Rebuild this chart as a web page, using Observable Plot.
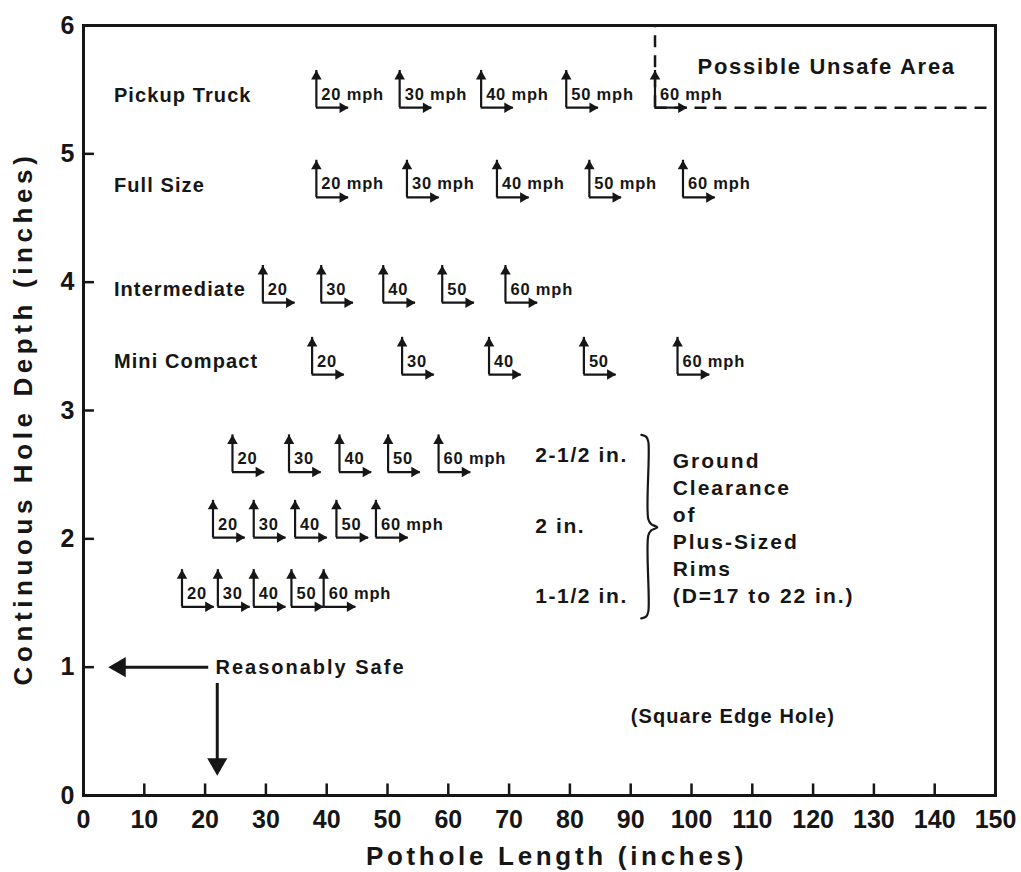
<!DOCTYPE html>
<html>
<head>
<meta charset="utf-8">
<script src="https://cdn.jsdelivr.net/npm/d3@7"></script>
<script src="https://cdn.jsdelivr.net/npm/@observablehq/plot@0.6"></script>
<style>
  html, body { margin: 0; padding: 0; background: #fff; }
  #chart svg { display: block; }
</style>
</head>
<body>
<div id="chart"></div>
<script>
// ---------------- data ----------------
const xTicks = [0, 10, 20, 30, 40, 50, 60, 70, 80, 90, 100, 110, 120, 130, 140, 150];
const yTicks = [0, 1, 2, 3, 4, 5, 6];
const speeds = [20, 30, 40, 50, 60];

// pothole length (in.) at each speed, per row
const pickupLength       = [38.3, 52.0, 65.4, 79.4, 94.0];
const fullSizeLength     = [38.3, 53.2, 68.0, 83.2, 98.6];
const intermediateLength = [29.5, 39.1, 49.3, 59.0, 69.4];
const miniCompactLength  = [37.6, 52.4, 66.7, 82.3, 97.7];
const clear25Length      = [24.5, 33.8, 42.1, 50.1, 58.4];
const clear20Length      = [21.3, 28.0, 34.8, 41.6, 48.1];
const clear15Length      = [16.2, 22.1, 28.0, 34.2, 39.5];

// hole depth (in.) of each row
const rowDepth = [5.36, 4.66, 3.84, 3.28, 2.52, 2.01, 1.47];
const rowLengths = [pickupLength, fullSizeLength, intermediateLength, miniCompactLength,
                    clear25Length, clear20Length, clear15Length];
const rowAllMph = [true, true, false, false, false, false, false];

const vehicleNames = ["Pickup Truck", "Full Size", "Intermediate", "Mini Compact"];
const vehicleLabelY = [5.45, 4.75, 3.94, 3.38];
const vehicleLabelX = 5;

const clearanceNames = ["2-1/2 in.", "2 in.", "1-1/2 in."];
const clearanceLabelY = [2.65, 2.10, 1.55];
const clearanceLabelX = 74.3;

const braceX = 92.9, braceTop = 2.81, braceMid = 2.09, braceBottom = 1.38;
const groundText = "Ground\nClearance\nof\nPlus-Sized\nRims\n(D=17 to 22 in.)";
const groundTextX = 96.9, groundTextY = 2.09;

const unsafeText = "Possible Unsafe Area";
const unsafeTextX = 101, unsafeTextY = 5.68;

const safeText = "Reasonably Safe";
const safeTextX = 21.7, safeTextY = 1.0;
const safeLeftFrom = 20.6, safeLeftTo = 4.1;     // x, at y = 1
const safeDownX = 22.0, safeDownFrom = 0.873, safeDownTo = 0.156;

const squareText = "(Square Edge Hole)";
const squareTextX = 90.0, squareTextY = 0.615;

// ---------------- build tables ----------------
const markers = [];
rowLengths.forEach((lens, r) => {
  lens.forEach((len, i) => {
    const s = speeds[i];
    markers.push({
      x: len, y: rowDepth[r],
      label: (rowAllMph[r] || s === 60) ? `${s} mph` : `${s}`
    });
  });
});

const UP = 0.29;     // vertical arrow length (depth units)
const RIGHT = 5.3;   // horizontal arrow length (length units)

const braceUnitX = 1 / 6.08, braceUnitY = 1 / 128.3;   // one pixel in data units
const braceOffsets = [[-7, 0], [-2, -2], [0, -7], [0, 0, "m+8"], [3, 0, "m+3"], [9, 0, "m"],
                      [3, 0, "m-3"], [0, 0, "m-8"], [0, 7, "b"], [-2, 2, "b"], [-7, 0, "b"]];
const bracePts = braceOffsets.map(([dx, dy, ref]) => {
  let y;
  if (!ref) y = braceTop + dy * braceUnitY;
  else if (ref === "b") y = braceBottom + dy * braceUnitY;
  else y = braceMid + (+ref.slice(1) || 0) * braceUnitY;
  return {x: braceX + dx * braceUnitX, y};
});

const ink = "#161616";
const font = "'Liberation Sans', Arial, Helvetica, sans-serif";

// ---------------- plot ----------------
const chart = Plot.plot({
  width: 1021,
  height: 872,
  marginLeft: 83,
  marginRight: 26,
  marginTop: 25,
  marginBottom: 77,
  x: {domain: [0, 150]},
  y: {domain: [0, 6]},
  style: {fontFamily: font, fontWeight: "bold", color: ink, background: "#fff"},
  marks: [
    Plot.axisX(xTicks, {tickSize: 0, tickPadding: 15, fontSize: 25, fontWeight: "bold", label: null, fill: ink,
      tickFormat: d3.format("d")}),
    Plot.axisY(yTicks, {tickSize: 0, tickPadding: 9, fontSize: 25, fontWeight: "bold", label: null, fill: ink,
      tickFormat: d3.format("d")}),
    // inward ticks
    Plot.ruleX(xTicks.filter(t => t > 0 && t < 150), {x: d => d, y1: 0, y2: 0.09, stroke: ink, strokeWidth: 2.5}),
    Plot.ruleY(yTicks.filter(t => t > 0 && t < 6), {y: d => d, x1: 0, x2: 1.8, stroke: ink, strokeWidth: 2.5}),
    Plot.frame({stroke: ink, strokeWidth: 3}),

    // axis titles
    Plot.text(["Continuous Hole Depth (inches)"], {frameAnchor: "left", textAnchor: "middle", lineAnchor: "middle",
      rotate: -90, dx: -60, dy: 8,
      fontSize: 26, fontWeight: "bold", fill: ink, ariaDescription: "ls:4.6"}),
    Plot.text(["Pothole Length (inches)"], {frameAnchor: "bottom", textAnchor: "middle", lineAnchor: "middle",
      dy: 61, dx: 17,
      fontSize: 26, fontWeight: "bold", fill: ink, ariaDescription: "ls:3.7"}),

    // unsafe area dashed boundary
    Plot.ruleX([pickupLength[4]], {x: d => d, y1: rowDepth[0], y2: 6, stroke: ink, strokeWidth: 2.5, strokeDasharray: "12,8"}),
    Plot.ruleY([rowDepth[0]], {y: d => d, x1: pickupLength[4], x2: 150, stroke: ink, strokeWidth: 2.5, strokeDasharray: "12,8"}),

    // speed markers: shafts
    Plot.ruleX(markers, {x: "x", y1: "y", y2: d => d.y + UP, stroke: ink, strokeWidth: 2.2}),
    Plot.ruleY(markers, {y: "y", x1: "x", x2: d => d.x + RIGHT, stroke: ink, strokeWidth: 2.2}),
    // speed markers: heads
    Plot.dot(markers, {x: "x", y: d => d.y + UP, symbol: "triangle", r: 3.9, fill: ink, stroke: null, rotate: 0, dy: 6}),
    Plot.dot(markers, {x: d => d.x + RIGHT, y: "y", symbol: "triangle", r: 3.9, fill: ink, stroke: null, rotate: 90, dx: -6}),
    Plot.text(markers, {x: "x", y: "y", text: "label", textAnchor: "start", lineAnchor: "bottom",
      dx: 5, dy: -8, fontSize: 16.5, fontWeight: "bold", fill: ink, ariaDescription: "ls:0.8"}),

    // row labels
    Plot.text(vehicleNames, {x: vehicleLabelX, y: (d, i) => vehicleLabelY[i], text: d => d, textAnchor: "start",
      fontSize: 20, fontWeight: "bold", fill: ink, ariaDescription: "ls:1.1"}),
    Plot.text(clearanceNames, {x: clearanceLabelX, y: (d, i) => clearanceLabelY[i], text: d => d, textAnchor: "start",
      fontSize: 21, fontWeight: "bold", fill: ink, ariaDescription: "ls:1.6"}),

    // brace and its text
    Plot.line(bracePts, {x: "x", y: "y", curve: "catmull-rom", stroke: ink, strokeWidth: 2.2}),
    Plot.text([groundText], {x: groundTextX, y: groundTextY, textAnchor: "start", lineAnchor: "middle", lineHeight: 1.286,
      fontSize: 21, fontWeight: "bold", fill: ink, ariaDescription: "ls:2"}),

    // unsafe area label
    Plot.text([unsafeText], {x: unsafeTextX, y: unsafeTextY, textAnchor: "start",
      fontSize: 22, fontWeight: "bold", fill: ink, ariaDescription: "ls:1.7"}),

    // reasonably safe
    Plot.ruleY([safeTextY], {y: d => d, x1: safeLeftFrom, x2: safeLeftTo + 2, stroke: ink, strokeWidth: 3}),
    Plot.dot([safeTextY], {x: safeLeftTo, y: d => d, symbol: "triangle", r: 7.5, fill: ink, stroke: null, rotate: -90, dx: 11.5}),
    Plot.ruleX([safeDownX], {x: d => d, y1: safeDownFrom, y2: safeDownTo + 0.1, stroke: ink, strokeWidth: 3}),
    Plot.dot([safeDownX], {x: d => d, y: safeDownTo, symbol: "triangle", r: 7.5, fill: ink, stroke: null, rotate: 180, dy: -11.5}),
    Plot.text([safeText], {x: safeTextX, y: safeTextY, textAnchor: "start",
      fontSize: 20, fontWeight: "bold", fill: ink, ariaDescription: "ls:2"}),

    // square edge hole
    Plot.text([squareText], {x: squareTextX, y: squareTextY, textAnchor: "start",
      fontSize: 20, fontWeight: "bold", fill: ink, ariaDescription: "ls:1.1"})
  ]
});

// letter spacing for the tracked lettering of the original
for (const g of chart.querySelectorAll("[aria-description]")) {
  const d = g.getAttribute("aria-description");
  if (d && d.startsWith("ls:")) g.setAttribute("letter-spacing", d.slice(3));
}
document.getElementById("chart").appendChild(chart);
</script>
</body>
</html>
